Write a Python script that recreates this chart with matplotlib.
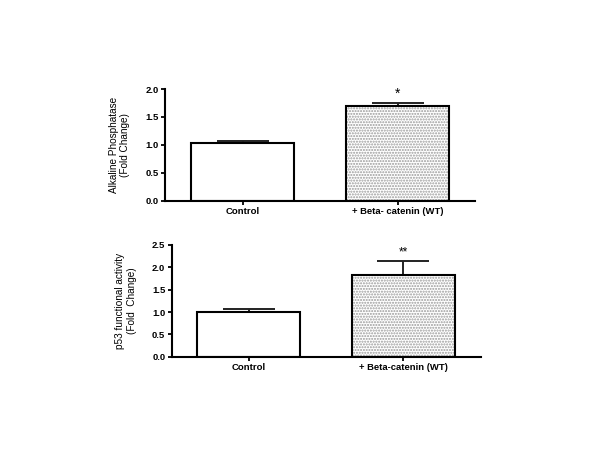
import numpy as np
import matplotlib.pyplot as plt

plt.rcParams['font.family'] = ['Liberation Sans', 'DejaVu Sans']

groups = ['Control', '+ Beta- catenin (WT)']
groups2 = ['Control', '+ Beta-catenin (WT)']

alp = [1.04, 1.70]
alp_err = [0.03, 0.055]
alp_sig = ['', '*']

p53 = [1.00, 1.83]
p53_err = [0.07, 0.30]
p53_sig = ['', '**']


def panel(ax, labels, vals, errs, sigs, ymax, ylabel, star_off):
    x = np.arange(len(vals))
    w = 0.665
    # stipple fill on second bar, then outlines on top
    ax.bar(x[1:], vals[1:], width=w, color='white', edgecolor='#9a9a9a',
           hatch='......', linewidth=0, zorder=2)
    ax.bar(x, vals, width=w, color='none', edgecolor='black',
           linewidth=1.5, zorder=3)
    ax.errorbar(x, vals, yerr=[np.zeros(len(errs)), errs], fmt='none',
                ecolor='#222222', elinewidth=1.4, capsize=18.5,
                capthick=1.4, zorder=1)
    for xi, v, e, s in zip(x, vals, errs, sigs):
        if s:
            ax.text(xi, v + e + star_off, s, ha='center', va='center',
                    fontsize=10 if s == '*' else 8.5)
    ax.set_xlim(-0.5, 1.5)
    ax.set_ylim(0, ymax)
    ax.set_yticks(np.arange(0, ymax + 0.01, 0.5))
    ax.set_yticklabels(['%.1f' % t for t in np.arange(0, ymax + 0.01, 0.5)],
                       fontsize=6.8, fontweight='bold')
    ax.set_xticks(x)
    ax.set_xticklabels(labels, fontsize=6.8, fontweight='bold')
    ax.tick_params(axis='both', length=3, width=1.3, pad=1.5)
    for side in ['top', 'right']:
        ax.spines[side].set_visible(False)
    for side in ['left', 'bottom']:
        ax.spines[side].set_linewidth(1.5)
    ax.set_ylabel(ylabel, fontsize=7.2, labelpad=11, linespacing=1.15)


fig = plt.figure(figsize=(6, 4.5), dpi=100)
ax1 = fig.add_axes([0.275, 0.554, 0.517, 0.248])
ax2 = fig.add_axes([0.286, 0.207, 0.515, 0.249])

panel(ax1, groups, alp, alp_err, alp_sig, 2.0,
      'Alkaline Phosphatase\n(Fold Change)', 0.17)
panel(ax2, groups2, p53, p53_err, p53_sig, 2.5,
      'p53 functional activity\n(Fold  Change)', 0.2)

fig.savefig('out.png', dpi=100)
